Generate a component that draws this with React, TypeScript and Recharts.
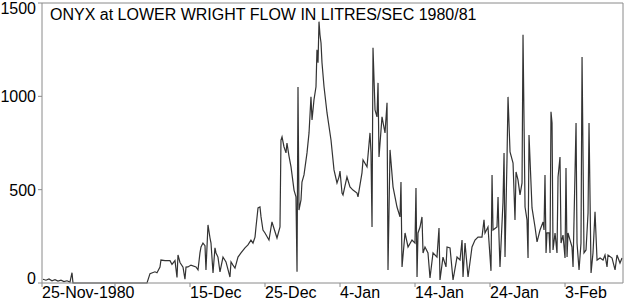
import React from "react";
import { LineChart, Line, XAxis, YAxis } from "recharts";

// Time in days since 25-Nov-1980 00:00, flow in litres/sec
const days = [
  0.4, 0.8, 1.2, 1.6, 2.0, 2.4, 2.8, 3.2, 3.6, 4.0,
  4.27, 4.4, 14.27, 14.67, 15.33, 15.6, 16.0, 16.13, 16.67, 17.33,
  17.6, 18.0, 18.27, 18.4, 18.67, 19.07, 19.33, 19.47, 19.73, 20.13,
  20.8, 21.07, 21.33, 21.47, 21.73, 22.0, 22.13, 22.4, 22.67, 22.8,
  23.07, 23.33, 23.47, 23.73, 24.0, 24.4, 24.8, 25.33, 25.47, 25.73,
  26.0, 26.4, 26.8, 27.33, 27.73, 28.13, 28.4, 28.67, 28.8, 29.07,
  29.33, 29.47, 29.73, 30.0, 30.53, 30.93, 31.6, 32.0, 32.13, 32.27,
  32.53, 32.8, 32.93, 33.2, 33.47, 33.87, 34.13, 34.27, 34.4, 34.53,
  34.8, 34.93, 35.2, 35.6, 35.87, 36.13, 36.27, 36.53, 36.8, 36.93,
  37.07, 37.2, 37.33, 37.47, 37.6, 37.87, 38.27, 38.8, 39.2, 39.6,
  39.87, 40.0, 40.27, 40.4, 40.93, 41.33, 41.73, 42.27, 42.4, 42.93,
  43.07, 43.6, 44.0, 44.13, 44.27, 44.4, 44.67, 44.93, 45.07, 45.2,
  45.6, 46.0, 46.27, 46.4, 46.67, 47.07, 47.6, 48.0, 48.13, 48.27,
  48.67, 49.07, 49.6, 50.0, 50.13, 50.27, 50.4, 50.67, 50.93, 51.07,
  51.33, 51.73, 52.0, 52.4, 52.93, 53.2, 53.33, 53.73, 54.13, 54.27,
  54.67, 55.07, 55.6, 56.0, 56.27, 56.4, 56.67, 57.07, 57.6, 58.0,
  58.4, 58.93, 59.2, 59.33, 59.73, 60.13, 60.27, 60.4, 60.93, 61.07,
  61.2, 61.33, 61.73, 61.87, 62.0, 62.27, 62.4, 62.67, 63.07, 63.33,
  63.47, 63.73, 64.0, 64.27, 64.4, 64.67, 64.93, 65.07, 65.2, 65.6,
  66.0, 66.27, 66.67, 67.07, 67.2, 67.33, 67.47, 67.6, 67.87, 68.0,
  68.13, 68.27, 68.4, 68.67, 68.93, 69.07, 69.33, 69.47, 69.73, 70.0,
  70.13, 70.27, 70.4, 70.67, 70.93, 71.07, 71.47, 71.6, 71.87, 72.13,
  72.27, 72.53, 72.8, 73.07, 73.2, 73.47, 73.73, 74.0, 74.27, 74.67,
  75.07, 75.33, 75.6, 75.73, 76.27, 76.67, 76.93, 77.33, 77.6,
];

const flow = [
  20, 15, 22, 12, 18, 10, 15, 8, 12, 5,
  55, 0, 0, 50, 60, 55, 85, 123, 120, 120,
  100, 120, 30, 150, 110, 85, 20, 85, 86, 96,
  86, 70, 161, 193, 214, 200, 70, 311, 241, 214,
  54, 188, 161, 139, 59, 139, 113, 32, 113, 96,
  80, 139, 161, 188, 204, 230, 214, 246, 300, 402,
  407, 354, 284, 268, 230, 327, 241, 300, 766, 783,
  730, 697, 750, 680, 622, 498, 461, 60, 1050, 391,
  445, 541, 579, 697, 804, 997, 874, 981, 1051, 1249,
  1180, 1400, 1330, 1286, 1180, 1051, 911, 766, 606, 536,
  568, 600, 482, 472, 568, 515, 498, 482, 461, 590,
  659, 622, 804, 700, 300, 1260, 927, 890, 1072, 675,
  890, 804, 965, 70, 713, 515, 407, 354, 541, 86,
  268, 193, 230, 214, 509, 32, 268, 300, 354, 161,
  193, 161, 27, 161, 139, 295, 16, 139, 86, 193,
  188, 16, 139, 123, 230, 32, 214, 32, 193, 230,
  246, 246, 338, 268, 300, 65, 579, 284, 300, 461,
  246, 86, 434, 697, 139, 675, 997, 702, 643, 338,
  595, 552, 472, 536, 1330, 407, 338, 134, 793, 402,
  300, 220, 284, 327, 284, 579, 161, 268, 268, 161,
  917, 857, 177, 268, 161, 568, 675, 214, 257, 134,
  616, 139, 268, 230, 193, 86, 857, 214, 70, 214,
  1211, 161, 177, 375, 857, 54, 161, 381, 123, 134,
  123, 150, 86, 150, 134, 70, 150, 107, 134,
];

const tickDays = [0.27, 10, 20, 30, 40, 50, 60, 70];
const tickLabels = ["25-Nov-1980", "", "15-Dec", "25-Dec", "4-Jan", "14-Jan", "24-Jan", "3-Feb"];
const yTicks = [0, 500, 1000, 1500];
const title = "ONYX at LOWER WRIGHT FLOW IN LITRES/SEC 1980/81";

const data = days.map((d, i) => ({ day: d, flow: flow[i] }));

const FONT = "'Liberation Sans', Arial, sans-serif";
const AXIS = "#8a8a8a";

const XTick = (props: any) => {
  const { x, y, payload } = props;
  const idx = tickDays.indexOf(payload.value);
  const label = idx >= 0 ? tickLabels[idx] : "";
  return (
    <text x={x} y={y} dy={11} textAnchor="start" fontFamily={FONT} fontSize={16} fill="#000">
      {label}
    </text>
  );
};

const YTick = (props: any) => {
  const { x, y, payload } = props;
  let dy = 6;
  if (payload.value === 1500) dy = 11;
  if (payload.value === 0) dy = 1;
  return (
    <text x={x} y={y} dy={dy} textAnchor="end" fontFamily={FONT} fontSize={16} fill="#000">
      {payload.value}
    </text>
  );
};

export default function App() {
  return (
    <div style={{ position: "absolute", left: 0, top: 0, width: 627, height: 300, background: "#fff" }}>
      <LineChart
        width={627}
        height={300}
        data={data}
        margin={{ top: 0, right: 0, bottom: 0, left: 0 }}
      >
        <XAxis
          dataKey="day"
          type="number"
          domain={[0.27, 77.73]}
          ticks={tickDays}
          interval={0}
          allowDataOverflow
          height={17}
          tickSize={4}
          tickMargin={0}
          stroke={AXIS}
          tick={<XTick />}
        />
        <XAxis
          xAxisId="top"
          orientation="top"
          dataKey="day"
          type="number"
          domain={[0.27, 77.73]}
          ticks={tickDays}
          allowDataOverflow
          height={3}
          tickSize={3}
          stroke={AXIS}
          tick={false}
        />
        <YAxis
          type="number"
          domain={[0, 1500]}
          ticks={yTicks}
          interval={0}
          width={42}
          tickSize={4}
          tickMargin={2}
          stroke={AXIS}
          tick={<YTick />}
        />
        <YAxis
          yAxisId="right"
          orientation="right"
          type="number"
          domain={[0, 1500]}
          ticks={yTicks}
          width={4}
          tickSize={3}
          stroke={AXIS}
          tick={false}
        />
        <Line
          type="linear"
          dataKey="flow"
          stroke="#333"
          strokeWidth={1.2}
          dot={false}
          activeDot={false}
          isAnimationActive={false}
        />
      </LineChart>
      <svg width={627} height={300} style={{ position: "absolute", left: 0, top: 0, pointerEvents: "none" }}>
        <text x={50} y={20} fontFamily={FONT} fontSize={16} fill="#000">
          {title}
        </text>
      </svg>
    </div>
  );
}
